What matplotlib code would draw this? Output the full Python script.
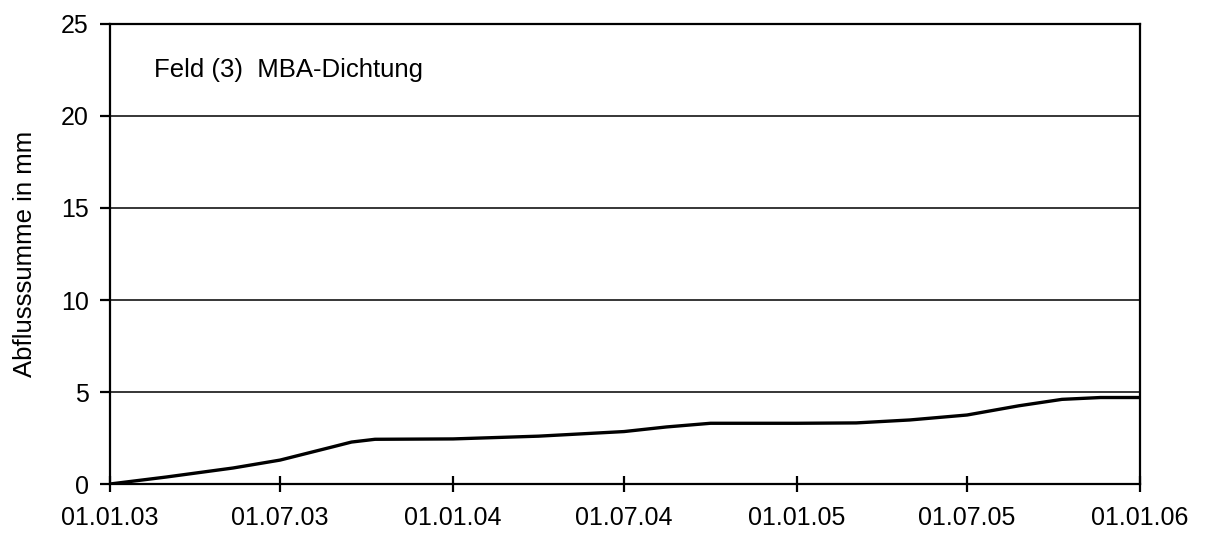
import matplotlib
matplotlib.use("Agg")
import matplotlib.pyplot as plt
import pandas as pd

dates = ["2003-01-01", "2003-03-02", "2003-05-12", "2003-07-01", "2003-08-26",
         "2003-09-15", "2003-10-10", "2004-01-01", "2004-04-01", "2004-07-01",
         "2004-08-15", "2004-10-01", "2005-01-01", "2005-03-05", "2005-05-01",
         "2005-07-01", "2005-08-25", "2005-10-10", "2005-11-20", "2006-01-01"]
values = [0.0, 0.38, 0.87, 1.3, 2.02, 2.28, 2.43, 2.45, 2.6, 2.85,
          3.1, 3.3, 3.3, 3.32, 3.48, 3.75, 4.25, 4.6, 4.7, 4.7]
tick_dates = ["2003-01-01", "2003-07-01", "2004-01-01", "2004-07-01",
              "2005-01-01", "2005-07-01", "2006-01-01"]
tick_labels = ["01.01.03", "01.07.03", "01.01.04", "01.07.04",
               "01.01.05", "01.07.05", "01.01.06"]
y_ticks = [0, 5, 10, 15, 20, 25]
title_text = "Feld (3)  MBA-Dichtung"
y_label = "Abflusssumme in mm"

plt.rcParams['font.family'] = ['Liberation Sans', 'DejaVu Sans']

W, H = 1208, 534
fig = plt.figure(figsize=(W / 100, H / 100), dpi=100)
ax = fig.add_axes([110 / W, 1 - 484 / H, (1140 - 110) / W, (484 - 24) / H])

x = pd.to_datetime(dates)
ax.plot(x, values, color="black", lw=2.4, solid_capstyle="butt",
        solid_joinstyle="round", zorder=3)

xt = pd.to_datetime(tick_dates)
ax.set_xlim(xt[0], xt[-1])
ax.set_ylim(0, 25)
ax.set_xticks(xt)
ax.set_xticklabels(tick_labels)
ax.set_yticks(y_ticks)
ax.set_yticklabels([str(v) for v in y_ticks])

for v in y_ticks[1:-1]:
    ax.axhline(v, color="black", lw=1.1, zorder=1)

for s in ax.spines.values():
    s.set_linewidth(1.6)
    s.set_color("black")

ax.tick_params(axis="x", direction="inout", length=12, width=1.6, labelsize=18, pad=10)
ax.tick_params(axis="y", direction="out", length=7.2, width=1.6, labelsize=18, pad=8)

fig.text(25 / W, 1 - 254 / H, y_label, rotation=90, fontsize=18.5,
         ha="center", va="center")
ax.text(0.043, 0.9, title_text, transform=ax.transAxes, fontsize=18.5,
        ha="left", va="center")

fig.savefig("out.png", dpi=100)
